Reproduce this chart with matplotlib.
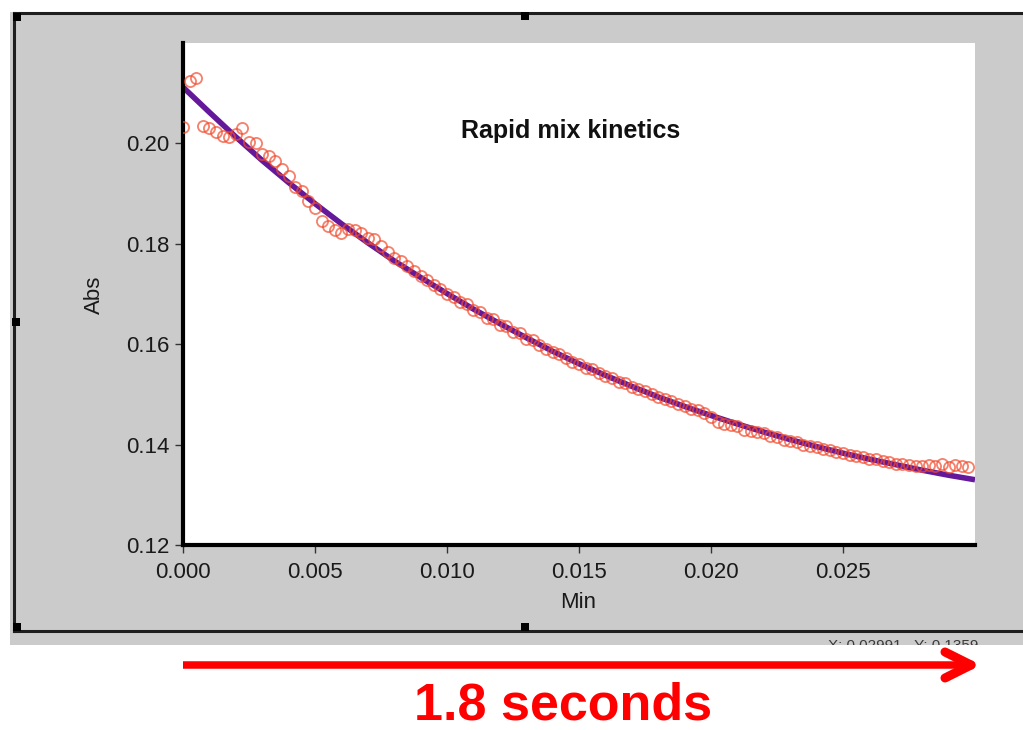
import numpy as np
import matplotlib
matplotlib.use("Agg")
import matplotlib.pyplot as plt
from matplotlib.patches import Rectangle
from matplotlib.lines import Line2D
from matplotlib.ticker import FormatStrFormatter

W, H = 1023, 730

# raw absorbance readings, one every 0.25 ms (in minutes)
DT = 0.00025
ABS_POINTS = [
    0.2032, 0.2125, 0.2131, 0.2035, 0.2030, 0.2022, 0.2015, 0.2012, 0.2018, 0.2030,
    0.2002, 0.2000, 0.1978, 0.1975, 0.1965, 0.1950, 0.1935, 0.1913, 0.1905, 0.1885,
    0.1872, 0.1845, 0.1835, 0.1828, 0.1822, 0.1830, 0.1828, 0.1822, 0.1812, 0.1810,
    0.1795, 0.1783, 0.1772, 0.1765, 0.1755, 0.1745, 0.1735, 0.1728, 0.1718, 0.1710,
    0.1700, 0.1695, 0.1684, 0.1680, 0.1668, 0.1665, 0.1652, 0.1650, 0.1638, 0.1637,
    0.1625, 0.1622, 0.1610, 0.1608, 0.1598, 0.1590, 0.1584, 0.1580, 0.1572, 0.1565,
    0.1560, 0.1553, 0.1550, 0.1542, 0.1537, 0.1532, 0.1525, 0.1522, 0.1514, 0.1510,
    0.1506, 0.1500, 0.1494, 0.1490, 0.1487, 0.1480, 0.1476, 0.1470, 0.1468, 0.1462,
    0.1455, 0.1445, 0.1442, 0.1440, 0.1438, 0.1430, 0.1428, 0.1425, 0.1423, 0.1418,
    0.1415, 0.1410, 0.1408, 0.1405, 0.1400, 0.1398, 0.1396, 0.1392, 0.1390, 0.1386,
    0.1384, 0.1380, 0.1378, 0.1376, 0.1372, 0.1372, 0.1368, 0.1365, 0.1362, 0.1362,
    0.1360, 0.1357, 0.1358, 0.1360, 0.1358, 0.1362, 0.1356, 0.1360, 0.1358, 0.1356,
]

# fitted curve
FIT_T = [0.000, 0.001, 0.002, 0.003, 0.004, 0.005, 0.006, 0.007, 0.008, 0.009,
         0.010, 0.011, 0.012, 0.013, 0.014, 0.015, 0.016, 0.017, 0.018, 0.019,
         0.020, 0.021, 0.022, 0.023, 0.024, 0.025, 0.026, 0.027, 0.028, 0.029,
         0.030]
FIT_ABS = [0.2112, 0.2062, 0.2013, 0.1966, 0.1922, 0.1880, 0.1840, 0.1802, 0.1766, 0.1733,
           0.1701, 0.1670, 0.1641, 0.1613, 0.1586, 0.1561, 0.1538, 0.1516, 0.1495, 0.1476,
           0.1458, 0.1441, 0.1425, 0.1410, 0.1396, 0.1383, 0.1371, 0.1360, 0.1349, 0.1339,
           0.1330]

X_TICKS = [0.000, 0.005, 0.010, 0.015, 0.020, 0.025]
Y_TICKS = [0.12, 0.14, 0.16, 0.18, 0.20]

FONT = "Liberation Sans"


def fx(x):
    return x / W


def fy(y):
    return 1 - y / H


fig = plt.figure(figsize=(W / 100, H / 100), dpi=100)
fig.patch.set_facecolor("white")

# grey panel of the plotting window
panel = Rectangle((fx(10), fy(645)), fx(W) - fx(10), fy(12) - fy(645),
                  transform=fig.transFigure, facecolor="#cbcbcb", edgecolor="none", zorder=0)
fig.add_artist(panel)

# status readout, partly hidden below the panel
fig.text(fx(828), fy(646), "X: 0.02991   Y: 0.1359", fontsize=11, family=FONT,
         color="#3a3a3a", ha="left", va="center", zorder=1)
fig.add_artist(Rectangle((fx(780), fy(H)), fx(W) - fx(780), fy(645) - fy(H),
                         transform=fig.transFigure, facecolor="white", edgecolor="none", zorder=2))

# window frame
for (x0, y0, x1, y1) in [(14, 13, W, 13), (14, 13, 14, 631), (14, 631, W, 631)]:
    fig.add_artist(Line2D([fx(x0), fx(x1)], [fy(y0), fy(y1)], transform=fig.transFigure,
                          color="#1e1e1e", lw=2.2, zorder=3))
for (cx, cy) in [(17, 17), (525, 16), (16, 322), (17, 627), (525, 627)]:
    fig.add_artist(Rectangle((fx(cx - 4), fy(cy + 4)), 8 / W, 8 / H, transform=fig.transFigure,
                             facecolor="black", edgecolor="none", zorder=4))

ax = fig.add_axes([fx(183), fy(545), (975 - 183) / W, (545 - 43) / H])
ax.set_facecolor("white")
ax.set_zorder(5)

t_pts = DT * np.arange(len(ABS_POINTS))
ax.plot(FIT_T, FIT_ABS, color="#64189a", lw=4, zorder=2, solid_capstyle="butt")
ax.plot(t_pts, ABS_POINTS, linestyle="none", marker="o", ms=8, mfc="none",
        mec="#f24a2c", mew=1.3, alpha=0.7, zorder=3)

ax.set_xlim(0, 0.03)
ax.set_ylim(0.12, 0.22)
ax.set_xticks(X_TICKS)
ax.set_yticks(Y_TICKS)
ax.xaxis.set_major_formatter(FormatStrFormatter("%.3f"))
ax.yaxis.set_major_formatter(FormatStrFormatter("%.2f"))
for side in ["top", "right"]:
    ax.spines[side].set_visible(False)
for side in ["left", "bottom"]:
    ax.spines[side].set_linewidth(3)
    ax.spines[side].set_color("black")
ax.tick_params(direction="out", length=6, width=1, color="#333333",
               labelsize=16, labelcolor="#1a1a1a")
ax.tick_params(axis="y", pad=4)
ax.tick_params(axis="x", pad=6)
for lab in ax.get_xticklabels() + ax.get_yticklabels():
    lab.set_family(FONT)

ax.text(0.49, 0.825, "Rapid mix kinetics", transform=ax.transAxes, ha="center",
        va="center", fontsize=18, fontweight="bold", family=FONT, color="#111111")

fig.text(fx(94), fy(295), "Abs", rotation=90, ha="center", va="center",
         fontsize=16, family=FONT, color="#1a1a1a")
fig.text(fx(578), fy(603), "Min", ha="center", va="center",
         fontsize=16, family=FONT, color="#1a1a1a")

# red time arrow below the window
red = "#ff0000"
fig.add_artist(Line2D([fx(183), fx(968)], [fy(665), fy(665)], transform=fig.transFigure,
                      color=red, lw=5.4, solid_capstyle="butt", zorder=6))
for ay in (652, 678):
    fig.add_artist(Line2D([fx(945), fx(971)], [fy(ay), fy(665)], transform=fig.transFigure,
                          color=red, lw=6.5, solid_capstyle="round", zorder=6))
fig.text(fx(563), fy(706), "1.8 seconds", ha="center", va="center", fontsize=37.5,
         fontweight="bold", family=FONT, color=red)

fig.savefig("out.png", dpi=100)
